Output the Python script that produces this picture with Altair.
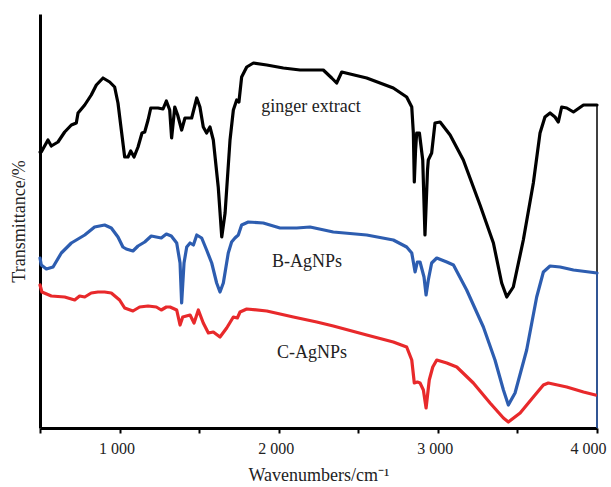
import altair as alt
import pandas as pd

# ---- data (x: wavenumber cm^-1, y: relative transmittance, arbitrary offset units) ----
ginger_wn = [500, 508, 550, 571, 613, 655, 697, 728, 739, 781, 822, 854, 896, 938, 969, 990,
             1011, 1032, 1053, 1070, 1091, 1116, 1141, 1158, 1179, 1196, 1241, 1273, 1294, 1315,
             1327, 1347, 1365, 1390, 1411, 1453, 1485, 1505, 1526, 1547, 1568, 1589, 1620, 1642,
             1663, 1694, 1715, 1736, 1750, 1767, 1799, 1841, 1925, 2029, 2134, 2280, 2333, 2364,
             2396, 2553, 2720, 2804, 2836, 2846, 2852, 2860, 2867, 2884, 2905, 2919, 2935, 2940,
             2961, 2982, 3014, 3077, 3160, 3265, 3349, 3401, 3433, 3474, 3537, 3600, 3642, 3673,
             3705, 3736, 3757, 3778, 3810, 3852, 3915, 4000]
ginger_t = [276, 276, 288, 282, 286, 296, 303, 305, 315, 323, 333, 343, 350, 346, 341, 325,
            298, 271, 271, 277, 271, 281, 295, 296, 308, 320, 320, 319, 327, 318,
            290, 321, 313, 298, 310, 310, 330, 321, 301, 295, 301, 288, 241, 191,
            215, 288, 318, 328, 326, 351, 361, 365, 363, 360, 358, 358, 350, 345,
            356, 350, 340, 331, 321, 295, 246, 278, 295, 295, 268, 193, 258, 268,
            275, 305, 306, 293, 268, 223, 185, 145, 131, 141, 188, 245, 295, 311,
            315, 311, 306, 321, 320, 316, 323, 323]

b_wn = [500, 508, 540, 582, 634, 697, 781, 843, 906, 948, 990, 1021, 1042, 1084, 1116, 1158,
        1199, 1262, 1294, 1325, 1359, 1380, 1390, 1405, 1422, 1443, 1464, 1485, 1516, 1547,
        1579, 1610, 1631, 1652, 1683, 1704, 1725, 1746, 1767, 1809, 1903, 2008, 2113, 2197,
        2343, 2553, 2720, 2804, 2836, 2857, 2871, 2888, 2913, 2926, 2940, 2961, 2993, 3056,
        3098, 3181, 3286, 3359, 3412, 3443, 3485, 3558, 3621, 3663, 3705, 3768, 3852, 4000]
b_t = [170, 163, 159, 161, 175, 185, 193, 201, 203, 200, 191, 181, 179, 177, 182, 186,
       192, 190, 194, 192, 185, 165, 125, 165, 181, 185, 183, 193, 190, 178,
       165, 145, 136, 145, 175, 186, 190, 193, 203, 206, 205, 200, 200, 201,
       196, 193, 188, 181, 175, 156, 166, 166, 151, 133, 148, 165, 170, 166,
       163, 138, 101, 68, 38, 23, 35, 78, 131, 156, 162, 161, 158, 155]

c_wn = [500, 512, 571, 655, 718, 749, 781, 822, 864, 906, 948, 1000, 1032, 1084, 1126, 1179,
        1231, 1262, 1294, 1317, 1359, 1380, 1397, 1443, 1468, 1495, 1526, 1558, 1589, 1631,
        1673, 1715, 1740, 1757, 1799, 1925, 2092, 2239, 2343, 2553, 2720, 2804, 2836, 2852,
        2871, 2888, 2909, 2926, 2946, 2968, 2993, 3056, 3119, 3223, 3328, 3412, 3443, 3517,
        3600, 3663, 3694, 3810, 3915, 3990]
c_t = [143, 136, 132, 131, 128, 132, 131, 135, 136, 136, 135, 128, 120, 117, 121, 122,
       121, 118, 121, 121, 118, 103, 111, 113, 105, 118, 105, 95, 96, 91,
       100, 111, 110, 116, 119, 117, 111, 106, 102, 93, 86, 81, 68, 45,
       46, 45, 38, 20, 48, 61, 68, 65, 61, 45, 25, 10, 6, 15,
       31, 43, 45, 41, 36, 33]

series_names = ["ginger extract", "B-AgNPs", "C-AgNPs"]
series_colors = ["#000000", "#2D5DB0", "#E8292B"]

label_wn = [2203, 2178, 2209]
label_t = [321, 166, 75]

tick_values = [500, 1000, 1500, 2000, 2500, 3000, 3500, 4000]

# ---- tables ----
rows = []
for name, xs, ys in [("ginger extract", ginger_wn, ginger_t),
                     ("B-AgNPs", b_wn, b_t),
                     ("C-AgNPs", c_wn, c_t)]:
    for i, (x, y) in enumerate(zip(xs, ys)):
        rows.append({"series": name, "wn": x, "t": y, "i": i})
df = pd.DataFrame(rows)

drops = pd.DataFrame({
    "series": ["ginger extract", "B-AgNPs"],
    "wn": [ginger_wn[-1], b_wn[-1]],
    "t": [ginger_t[-1], b_t[-1]],
    "t0": [0, 0],
})

labels = pd.DataFrame({"name": series_names, "wn": label_wn, "t": label_t})

FONT = "Liberation Serif"

xscale = alt.Scale(domain=[500, 4000], nice=False, zero=False)
yscale = alt.Scale(domain=[0, 414], nice=False, zero=False)
cscale = alt.Scale(domain=series_names, range=series_colors)

x_axis = alt.Axis(
    title="Wavenumbers/cm\u207b\u00b9",
    values=tick_values,
    labelExpr="datum.value % 1000 == 0 ? floor(datum.value / 1000) + ' 000' : ''",
    grid=False,
    domainColor="black", domainWidth=3,
    tickColor="black", tickWidth=2, tickSize=5,
    labelFont=FONT, labelFontSize=16, labelColor="#222222", labelPadding=7,
    labelOverlap=False, labelFlush=False,
    labelOffset={"condition": {"test": "datum.value == 4000", "value": -9}, "value": -3},
    titleFont=FONT, titleFontSize=18, titleFontWeight="normal", titleColor="#222222",
    titlePadding=10,
)
y_axis = alt.Axis(
    title="Transmittance/%",
    ticks=False, labels=False, grid=False,
    domainColor="black", domainWidth=3,
    titleFont=FONT, titleFontSize=18, titleFontWeight="normal", titleColor="#222222",
    titlePadding=12,
)

lines = alt.Chart(df).mark_line(strokeWidth=3.2, strokeJoin="round", strokeCap="round").encode(
    x=alt.X("wn:Q", scale=xscale, axis=x_axis),
    y=alt.Y("t:Q", scale=yscale, axis=y_axis),
    color=alt.Color("series:N", scale=cscale, legend=None),
    order="i:Q",
)

rules = alt.Chart(drops).mark_rule(strokeWidth=1.5).encode(
    x=alt.X("wn:Q", scale=xscale),
    y=alt.Y("t:Q", scale=yscale),
    y2="t0:Q",
    color=alt.Color("series:N", scale=cscale, legend=None),
)

texts = alt.Chart(labels).mark_text(font=FONT, fontSize=18, color="#222222",
                                     align="center", baseline="middle").encode(
    x=alt.X("wn:Q", scale=xscale),
    y=alt.Y("t:Q", scale=yscale),
    text="name:N",
)

chart = alt.layer(rules, lines, texts).properties(
    width=557, height=414,
    autosize=alt.AutoSizeParams(type="none"),
    padding={"left": 40, "top": 14, "right": 14, "bottom": 59},
    background="white",
).configure_view(stroke=None)

chart.save("out.html", embed_options={"renderer": "svg", "actions": False})
